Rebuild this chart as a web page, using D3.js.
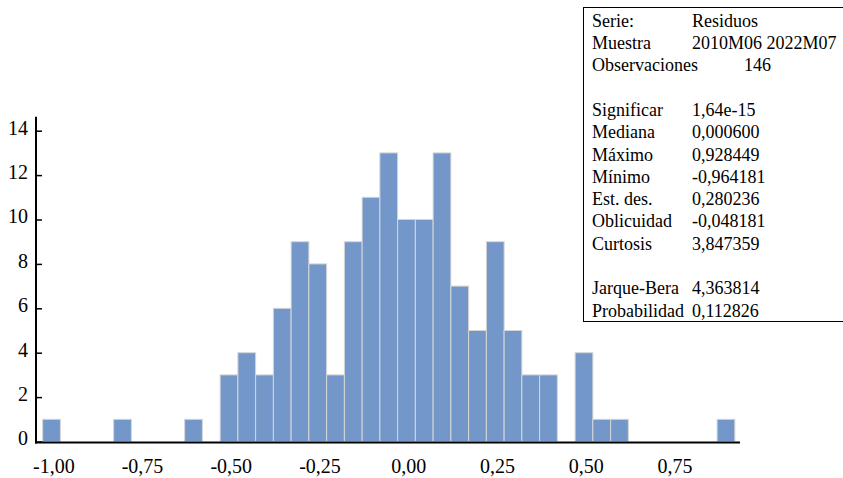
<!DOCTYPE html>
<html>
<head>
<meta charset="utf-8">
<script src="https://cdn.jsdelivr.net/npm/d3@7"></script>
<style>
  body { margin: 0; background: #fff; }
  svg text { font-family: "Liberation Serif", "Times New Roman", serif; fill: #000; }
</style>
</head>
<body>
<svg id="chart"></svg>
<script>
// histograma de residuos: limite inferior de cada clase y su frecuencia
var binWidth = 0.05;
var binLow = [-1.03, -0.83, -0.63, -0.53, -0.48, -0.43, -0.38, -0.33, -0.28, -0.23, -0.18,
  -0.13, -0.08, -0.03, 0.02, 0.07, 0.12, 0.17, 0.22, 0.27, 0.32, 0.37, 0.47, 0.52, 0.57, 0.87];
var binCount = [1, 1, 1, 3, 4, 3, 6, 9, 8, 3, 9,
  11, 13, 10, 10, 13, 7, 5, 9, 5, 3, 3, 4, 1, 1, 1];
var xTicks = [-1.0, -0.75, -0.5, -0.25, 0.0, 0.25, 0.5, 0.75];
var yTicks = [0, 2, 4, 6, 8, 10, 12, 14];

// cuadro de estadisticos
var statLabels = ["Serie:", "Muestra", "Observaciones", "", "Significar", "Mediana", "Máximo",
  "Mínimo", "Est. des.", "Oblicuidad", "Curtosis", "", "Jarque-Bera", "Probabilidad"];
var statValues = ["Residuos", "2010M06 2022M07", "146", "", "1,64e-15", "0,000600", "0,928449",
  "-0,964181", "0,280236", "-0,048181", "3,847359", "", "4,363814", "0,112826"];

var width = 843, height = 478;
var svg = d3.select("#chart").attr("width", width).attr("height", height);

var locale = d3.formatLocale({ decimal: ",", thousands: ".", grouping: [3], currency: ["", "€"], minus: "-" });
var fmt = locale.format(".2f");

var x = d3.scaleLinear().domain([-1, 0.75]).range([53.3, 674.5]);
var y = d3.scaleLinear().domain([0, 14]).range([441.5, 130.7]);

var bins = binLow.map((d, i) => ({ low: d, count: binCount[i] }));

// barras
svg.append("g")
  .selectAll("rect")
  .data(bins)
  .enter()
  .append("rect")
  .attr("x", (d) => x(d.low))
  .attr("y", (d) => y(d.count))
  .attr("width", (d) => x(d.low + binWidth) - x(d.low))
  .attr("height", (d) => y(0) - y(d.count))
  .attr("fill", "#7397c9")
  .attr("stroke", "#d6d6d6")
  .attr("stroke-width", 1);

// eje x
var xAxis = d3.axisBottom(x).tickValues(xTicks).tickFormat(fmt).tickSize(0).tickPadding(17);
svg.append("g")
  .attr("transform", "translate(0,442)")
  .call(xAxis)
  .attr("font-family", null)
  .attr("font-size", 20)
  .call((g) => g.select(".domain").remove());
svg.append("line")
  .attr("x1", 35).attr("x2", 740)
  .attr("y1", 442.5).attr("y2", 442.5)
  .attr("stroke", "#000").attr("stroke-width", 2);

// eje y
var yAxis = d3.axisLeft(y).tickValues(yTicks).tickSizeInner(-6).tickSizeOuter(0).tickPadding(8);
svg.append("g")
  .attr("transform", "translate(36,0)")
  .call(yAxis)
  .attr("font-family", null)
  .attr("font-size", 20)
  .call((g) => g.select(".domain").remove())
  .call((g) => g.selectAll(".tick line").attr("stroke", "#000").attr("stroke-width", 1.5))
  .call((g) => g.selectAll("text").attr("dy", "0.17em"));
svg.append("line")
  .attr("x1", 36).attr("x2", 36)
  .attr("y1", 116.7).attr("y2", 443.5)
  .attr("stroke", "#000").attr("stroke-width", 2);

// cuadro
var box = svg.append("g");
box.append("rect")
  .attr("x", 583.5).attr("y", 7.5)
  .attr("width", 300).attr("height", 314)
  .attr("fill", "#fff").attr("stroke", "#000").attr("stroke-width", 1);
statLabels.forEach((t, i) => {
  var yy = 26.7 + i * 22.3;
  box.append("text").attr("x", 592).attr("y", yy).style("font-size", "18px").text(t);
  box.append("text")
    .attr("x", i == 2 ? 744 : 692)
    .attr("y", yy)
    .style("font-size", "18px")
    .text(statValues[i]);
});
</script>
</body>
</html>
